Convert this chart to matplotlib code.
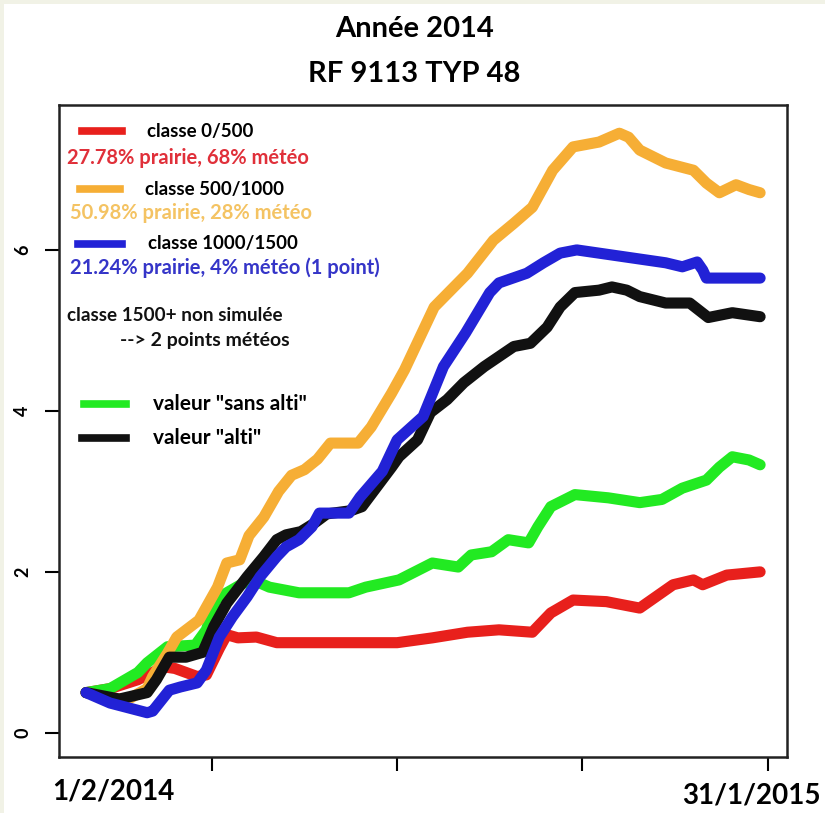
import matplotlib
matplotlib.use('Agg')
from matplotlib import pyplot as plt
from matplotlib.patches import Rectangle
import numpy as np

plt.rcParams['font.family'] = ['Lato', 'DejaVu Sans']
plt.rcParams['font.weight'] = 'bold'

# jour de l'annee (1/2/2014 = 32, 31/1/2015 = 396)
red_day = [32, 45, 60, 74, 80, 92, 97, 104, 108, 114, 124, 135, 150, 200, 219, 238, 255, 273, 283,
           295, 313, 331, 349, 360, 365, 378, 396]
red_val = [0.50, 0.55, 0.66, 0.82, 0.80, 0.70, 0.72, 1.05, 1.22, 1.18, 1.19, 1.12, 1.12, 1.12, 1.18,
           1.25, 1.28, 1.25, 1.49, 1.65, 1.63, 1.55, 1.84, 1.90, 1.84, 1.96, 2.00]

orange_day = [32, 45, 55, 65, 68, 76, 81, 93, 103, 108, 115, 120, 128, 136, 143, 150, 157, 164, 179,
              186, 197, 204, 220, 238, 252, 263, 273, 284, 295, 309, 320, 325, 331, 345, 360, 367,
              374, 383, 390, 396]
orange_val = [0.50, 0.43, 0.42, 0.55, 0.70, 0.99, 1.19, 1.40, 1.81, 2.11, 2.15, 2.45, 2.68, 3.00,
              3.20, 3.27, 3.40, 3.60, 3.60, 3.80, 4.22, 4.51, 5.29, 5.71, 6.12, 6.33, 6.53, 6.99,
              7.28, 7.34, 7.45, 7.40, 7.24, 7.08, 6.99, 6.83, 6.71, 6.81, 6.75, 6.71]

blue_day = [32, 45, 65, 68, 77, 83, 92, 97, 104, 111, 119, 126, 135, 140, 147, 154, 158, 174, 180,
            192, 200, 214, 225, 237, 250, 255, 270, 279, 288, 297, 309, 327, 345, 354, 362, 365,
            367, 396]
blue_val = [0.50, 0.37, 0.25, 0.27, 0.53, 0.57, 0.62, 0.78, 1.19, 1.44, 1.69, 1.94, 2.19, 2.31,
            2.40, 2.56, 2.73, 2.73, 2.93, 3.25, 3.64, 3.93, 4.55, 4.97, 5.47, 5.59, 5.71, 5.84,
            5.96, 6.00, 5.96, 5.90, 5.84, 5.79, 5.85, 5.75, 5.65, 5.65]

green_day = [32, 45, 60, 65, 76, 91, 97, 102, 108, 117, 124, 131, 147, 174, 183, 201, 219, 233, 240,
             251, 260, 271, 276, 283, 296, 314, 331, 343, 354, 367, 374, 381, 390, 396]
green_val = [0.50, 0.55, 0.75, 0.87, 1.07, 1.09, 1.28, 1.65, 1.74, 1.86, 1.88, 1.81, 1.74, 1.74,
             1.81, 1.90, 2.11, 2.06, 2.21, 2.25, 2.40, 2.36, 2.56, 2.81, 2.96, 2.92, 2.86, 2.90,
             3.04, 3.14, 3.30, 3.43, 3.39, 3.33]

black_day = [32, 50, 65, 70, 77, 86, 95, 101, 108, 119, 128, 135, 140, 148, 155, 162, 175, 181, 197,
             201, 211, 218, 227, 236, 247, 263, 272, 281, 288, 296, 309, 316, 324, 331, 345, 358,
             363, 368, 381, 390, 396]
black_val = [0.50, 0.42, 0.50, 0.66, 0.94, 0.94, 1.00, 1.32, 1.61, 1.94, 2.19, 2.40, 2.46, 2.50,
             2.60, 2.72, 2.76, 2.81, 3.30, 3.43, 3.64, 3.98, 4.14, 4.35, 4.55, 4.80, 4.84, 5.04,
             5.29, 5.47, 5.50, 5.54, 5.50, 5.42, 5.34, 5.34, 5.25, 5.16, 5.22, 5.19, 5.17]

y_ticks = [0, 2, 4, 6]
x_ticks = [100, 200, 300, 400]

c_red = '#e8201c'
c_orange = '#f6ae35'
c_blue = '#2222d6'
c_green = '#22ea22'
c_black = '#111111'

fig = plt.figure(figsize=(8.25, 8.13), dpi=100)
fig.patch.set_facecolor('#f1f2e6')
fig.patches.append(Rectangle((0.005, 0), 0.995, 0.995, transform=fig.transFigure,
                             facecolor='white', edgecolor='none', zorder=-5))

ax = fig.add_axes([0.0715, 0.0689, 0.8824, 0.8019])
ax.set_zorder(2)
ax.set_facecolor('white')

lw = 8
for d, v, c in [(red_day, red_val, c_red), (green_day, green_val, c_green),
                (orange_day, orange_val, c_orange), (black_day, black_val, c_black),
                (blue_day, blue_val, c_blue)]:
    ax.plot(d, v, color=c, lw=lw, solid_capstyle='round', solid_joinstyle='round')

ax.set_xlim(17.4, 410.5)
ax.set_ylim(-0.3, 7.8)
ax.set_xticks(x_ticks)
ax.set_xticklabels([])
ax.set_yticks(y_ticks)
ax.set_yticklabels([str(t) for t in y_ticks], rotation=90, va='center', fontsize=13)
ax.tick_params(length=10, width=1.5, pad=10)
for s in ax.spines.values():
    s.set_linewidth(1.8)
    s.set_color('#222222')

# titres
fig.text(0.502, 0.964, 'Année 2014', ha='center', va='center', fontsize=21)
fig.text(0.502, 0.909, 'RF 9113 TYP 48', ha='center', va='center', fontsize=21)

# dates
fig.text(0.063, 0.027, '1/2/2014', ha='left', va='center', fontsize=20)
fig.text(0.995, 0.021, '31/1/2015', ha='right', va='center', fontsize=20)


def px(x, y):
    return x / 825, 1 - y / 813


# legende
items = [
    (82, 122, 131, c_red, 147, 'classe 0/500', 13.5),
    (80, 120, 189, c_orange, 145, 'classe 500/1000', 13.5),
    (78, 122, 244, c_blue, 148, 'classe 1000/1500', 13.5),
    (84, 126, 404, c_green, 153, 'valeur "sans alti"', 15),
    (82, 126, 438, c_black, 153, 'valeur "alti"', 15),
]
for x0, x1, y, c, xt, label, fs in items:
    a = px(x0, y)
    b = px(x1, y)
    fig.add_artist(plt.Line2D([a[0], b[0]], [a[1], a[1]], color=c, lw=5.5, zorder=5))
    t = px(xt, y)
    fig.text(t[0], t[1], label, ha='left', va='center', fontsize=fs, zorder=5)

subs = [
    (67, 158, '27.78% prairie, 68% météo', '#e0303a', 14.5),
    (70, 213, '50.98% prairie, 28% météo', '#f4c363', 14.5),
    (70, 268, '21.24% prairie, 4% météo (1 point)', '#3535c8', 14.5),
    (67, 315, 'classe 1500+ non simulée', '#111111', 13.6),
    (120, 340, '--> 2 points météos', '#111111', 14),
]
for x, y, label, c, fs in subs:
    t = px(x, y)
    fig.text(t[0], t[1], label, ha='left', va='center', fontsize=fs, color=c, zorder=5)

fig.savefig('out.png', dpi=100, facecolor=fig.get_facecolor())
